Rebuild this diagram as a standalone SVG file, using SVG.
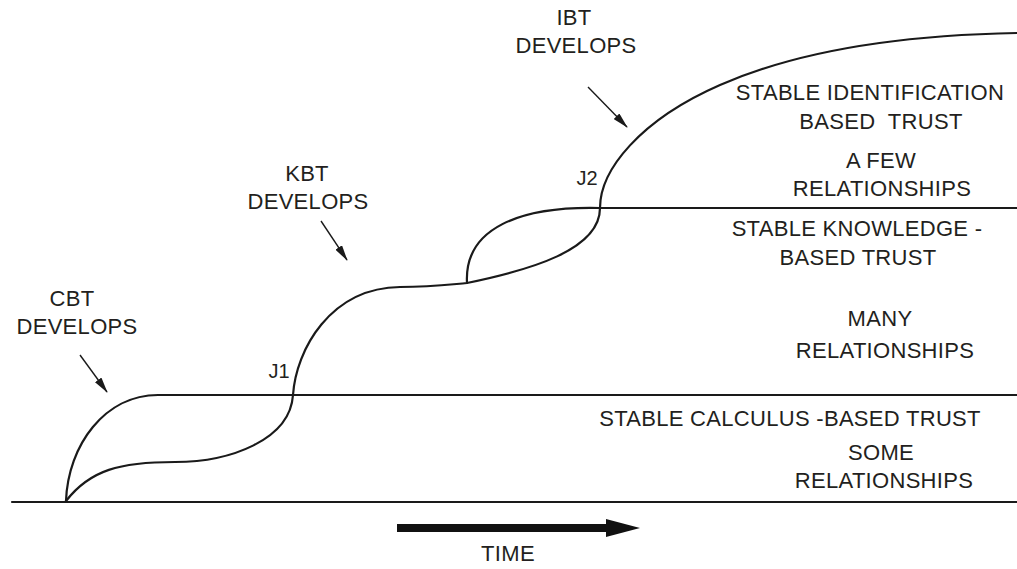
<svg xmlns="http://www.w3.org/2000/svg" width="1017" height="569" viewBox="0 0 1017 569">
<style>
.t{font-family:"Liberation Sans",Arial,sans-serif;font-size:22px;fill:#231f20;text-anchor:middle;letter-spacing:0.3px}
.j{font-family:"Liberation Sans",Arial,sans-serif;font-size:20px;fill:#231f20;text-anchor:middle}
.c{fill:none;stroke:#1a1a1a;stroke-width:2.2;stroke-linecap:round;stroke-linejoin:round}
.a{fill:none;stroke:#1a1a1a;stroke-width:1.4}
</style>
<defs>
<marker id="ah" viewBox="0 0 16 8" refX="15" refY="4" markerWidth="16" markerHeight="8" markerUnits="userSpaceOnUse" orient="auto">
<path d="M0,0 L16,4 L0,8 Z" fill="#1a1a1a"/>
</marker>
</defs>
<rect width="1017" height="569" fill="#ffffff"/>
<g id="connectors">
<line class="c" x1="12" y1="502" x2="1017" y2="502"/>
<path class="c" d="M66,501 C68,445 105,395 158,395 L1017,395"/>
<path class="c" d="M66,501 C90,470 120,462 175,462 C230,462 290,440 293,395 C296,350 330,288 400,287 C430,287 445,285 467,283 C530,270 600,250 600,208 C600,170 640,120 720,85 C800,50 900,35 1017,33"/>
<path class="c" d="M467,283 C464,228 520,206 600,208 L1017,208"/>
<line class="a" x1="80" y1="355" x2="107" y2="392" marker-end="url(#ah)"/>
<line class="a" x1="321" y1="221" x2="347" y2="260" marker-end="url(#ah)"/>
<line class="a" x1="588" y1="87" x2="627" y2="127" marker-end="url(#ah)"/>
</g>
<g id="cbt-label"><text class="t" x="72" y="306">CBT</text><text class="t" x="77" y="334">DEVELOPS</text></g>
<g id="kbt-label"><text class="t" x="307" y="181">KBT</text><text class="t" x="308" y="209">DEVELOPS</text></g>
<g id="ibt-label"><text class="t" x="574" y="25">IBT</text><text class="t" x="576" y="53">DEVELOPS</text></g>
<g id="j1"><text class="j" x="279" y="378">J1</text></g>
<g id="j2"><text class="j" x="587" y="185">J2</text></g>
<g id="ibt-zone">
<text class="t" x="870" y="100">STABLE IDENTIFICATION</text>
<text class="t" x="881" y="129">BASED&#160; TRUST</text>
<text class="t" x="881" y="168">A FEW</text>
<text class="t" x="882" y="196">RELATIONSHIPS</text>
</g>
<g id="kbt-zone">
<text class="t" x="857" y="236">STABLE KNOWLEDGE -</text>
<text class="t" x="858" y="265">BASED TRUST</text>
<text class="t" x="880" y="326">MANY</text>
<text class="t" x="885" y="358">RELATIONSHIPS</text>
</g>
<g id="cbt-zone">
<text class="t" x="790" y="426">STABLE CALCULUS -BASED TRUST</text>
<text class="t" x="881" y="460">SOME</text>
<text class="t" x="884" y="488">RELATIONSHIPS</text>
</g>
<g id="time">
<rect x="397" y="524" width="212" height="8" fill="#111"/>
<path d="M606,519 L640,528 L606,537 Z" fill="#111"/>
<text class="t" x="508" y="561">TIME</text>
</g>
</svg>
